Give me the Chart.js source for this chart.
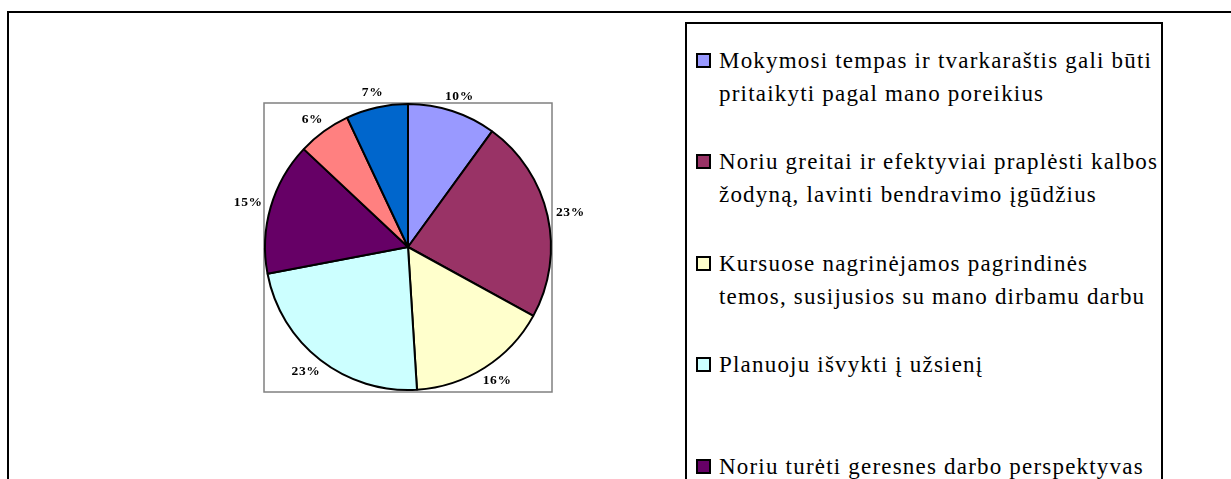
<!DOCTYPE html>
<html>
<head>
<meta charset="utf-8">
<script src="https://cdn.jsdelivr.net/npm/chart.js@4/dist/chart.umd.min.js"></script>
<style>
  html, body { margin: 0; padding: 0; background: #fff; }
  body { width: 1231px; height: 479px; overflow: hidden; position: relative; }
  #chart { position: absolute; left: 0; top: 0; }
  #legend {
    position: absolute; left: 685px; top: 22px; width: 478px; height: 700px;
    box-sizing: border-box; border: 2px solid #000; background: #fff;
  }
  .item { position: absolute; left: 0; }
  .swatch {
    position: absolute; left: 9px; width: 15px; height: 15px;
    box-sizing: border-box; border: 2px solid #000;
  }
  .txt {
    position: absolute; left: 32px; white-space: nowrap;
    font-family: 'Liberation Serif', 'Times New Roman', serif;
    font-size: 23px; line-height: 33px; letter-spacing: 1.2px; color: #000;
  }
</style>
</head>
<body>
<canvas id="chart" width="1231" height="479"></canvas>
<div id="legend"></div>
<script>
// ---- data ----
const categories = [
  ['Mokymosi tempas ir tvarkaraštis gali būti', 'pritaikyti pagal mano poreikius'],
  ['Noriu greitai ir efektyviai praplėsti kalbos', 'žodyną, lavinti bendravimo įgūdžius'],
  ['Kursuose nagrinėjamos pagrindinės', 'temos, susijusios su mano dirbamu darbu'],
  ['Planuoju išvykti į užsienį'],
  ['Noriu turėti geresnes darbo perspektyvas'],
  [''],
  ['']
];
const shares = [10, 23, 16, 23, 15, 6, 7];
const sliceColors = ['#9999FF', '#993366', '#FFFFCC', '#CCFFFF', '#660066', '#FF8080', '#0066CC'];

// ---- plugins ----
const framePlugin = {
  id: 'frame',
  beforeDraw(chart) {
    const ctx = chart.ctx;
    ctx.save();
    ctx.fillStyle = '#000';
    ctx.fillRect(7, 11, chart.width, 2);
    ctx.fillRect(7, 11, 2, chart.height);
    const a = chart.chartArea;
    ctx.strokeStyle = '#808080';
    ctx.lineWidth = 1.5;
    ctx.strokeRect(a.left, a.top, a.right - a.left, a.bottom - a.top + 1);
    ctx.restore();
  }
};

const pctPlugin = {
  id: 'pct',
  afterDatasetsDraw(chart) {
    const ctx = chart.ctx;
    const meta = chart.getDatasetMeta(0);
    const data = chart.data.datasets[0].data;
    const total = data.reduce((s, v) => s + v, 0);
    ctx.save();
    ctx.font = 'bold 13.5px "Liberation Serif", "Times New Roman", serif';
    ctx.fillStyle = '#000';
    ctx.textAlign = 'center';
    ctx.textBaseline = 'middle';
    if ('letterSpacing' in ctx) ctx.letterSpacing = '0.6px';
    meta.data.forEach((arc, i) => {
      const p = arc.getProps(['x', 'y', 'startAngle', 'endAngle', 'outerRadius'], true);
      const a = (p.startAngle + p.endAngle) / 2;
      const txt = Math.round(data[i] / total * 100) + '%';
      const w = ctx.measureText(txt).width;
      const h = 12;
      const r = p.outerRadius + 9;
      const cx = p.x + Math.cos(a) * r + Math.cos(a) * w / 2;
      const cy = p.y + Math.sin(a) * r + Math.sin(a) * h / 2;
      ctx.fillText(txt, cx, cy);
    });
    ctx.restore();
  }
};

const chart = new Chart(document.getElementById('chart'), {
  type: 'pie',
  data: {
    labels: categories,
    datasets: [{
      data: shares,
      backgroundColor: sliceColors,
      borderColor: '#000',
      borderWidth: 2
    }]
  },
  options: {
    responsive: false,
    animation: false,
    layout: { padding: { left: 264, top: 103, right: 679, bottom: 88 } },
    plugins: {
      legend: { display: false },
      tooltip: { enabled: false }
    }
  },
  plugins: [framePlugin, pctPlugin]
});

// ---- legend (HTML, built from the arrays) ----
const legend = document.getElementById('legend');
categories.forEach((lines, i) => {
  if (!lines.join('').trim()) return;
  const top = 19.5 + i * 101.5;
  const item = document.createElement('div');
  item.className = 'item';
  item.style.top = top + 'px';
  const sw = document.createElement('div');
  sw.className = 'swatch';
  sw.style.top = '9px';
  sw.style.background = sliceColors[i];
  const tx = document.createElement('div');
  tx.className = 'txt';
  tx.style.top = '0px';
  lines.forEach((l, j) => {
    if (j) tx.appendChild(document.createElement('br'));
    tx.appendChild(document.createTextNode(l));
  });
  item.appendChild(sw);
  item.appendChild(tx);
  legend.appendChild(item);
});
</script>
</body>
</html>
